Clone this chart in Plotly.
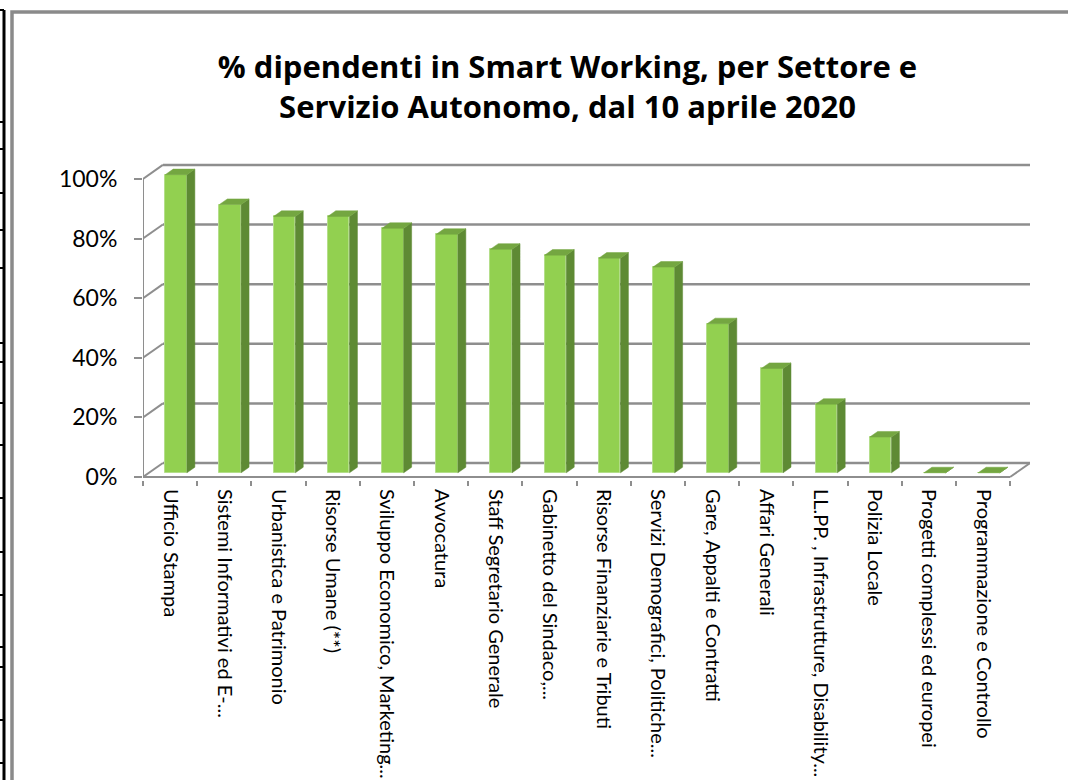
import plotly.graph_objects as go

# ---------------- data ----------------
categories = [
    "Ufficio Stampa",
    "Sistemi Informativi ed E-...",
    "Urbanistica e Patrimonio",
    "Risorse Umane (**)",
    "Sviluppo Economico, Marketing...",
    "Avvocatura",
    "Staff Segretario Generale",
    "Gabinetto del Sindaco,...",
    "Risorse Finanziarie e Tributi",
    "Servizi Demografici, Politiche...",
    "Gare, Appalti e Contratti",
    "Affari Generali",
    "LL.PP. , Infrastrutture, Disability...",
    "Polizia Locale",
    "Progetti complessi ed europei",
    "Programmazione e Controllo",
]
values = [100, 90, 86, 86, 82, 80, 75, 73, 72, 69, 50, 35, 23, 12, 0, 0]
y_ticks = [0, 20, 40, 60, 80, 100]
y_tick_labels = ["0%", "20%", "40%", "60%", "80%", "100%"]
title_text = "% dipendenti in Smart Working, per Settore e<br>Servizio Autonomo, dal 10 aprile 2020"

# ---------------- pseudo-3D geometry constants ----------------
W, H = 1068, 780
L, R, T, B = 143, 38, 161, 300
PW, PH = W - L - R, H - T - B
DEPTH_X, DEPTH_Y = 0.367, 4.69      # full box depth in axis units
BAR_D0, BAR_D1 = 0.30, 0.70          # bar front/back depth fraction
BAR_W = 0.40

FRONT = "#92D050"
FRONT_EDGE = "#B4DE8A"
SIDE = "#5E8A34"
TOP = "#74A641"
GRID = "#8E8E8E"

n = len(categories)
idx = list(range(n))
base = BAR_D0 * DEPTH_Y
front_x = [i + BAR_D0 * DEPTH_X for i in idx]
sx = (BAR_D1 - BAR_D0) * DEPTH_X
sy = (BAR_D1 - BAR_D0) * DEPTH_Y

side_x, side_y, top_x, top_y = [], [], [], []
for xc, v in zip(front_x, values):
    xl, xr = xc - BAR_W / 2, xc + BAR_W / 2
    yt = base + v
    side_x += [xr, xr + sx, xr + sx, xr, xr, None]
    side_y += [base, base + sy, yt + sy, yt, base, None]
    top_x += [xl, xl + sx, xr + sx, xr, xl, None]
    top_y += [yt, yt + sy, yt + sy, yt, yt, None]

fig = go.Figure()
fig.add_trace(go.Bar(
    x=front_x, y=values, base=base, width=BAR_W,
    marker=dict(color=FRONT, line=dict(color=FRONT_EDGE, width=1)),
    hoverinfo="skip", showlegend=False,
))
fig.add_trace(go.Scatter(
    x=side_x, y=side_y, mode="lines", fill="toself", fillcolor=SIDE,
    line=dict(color=SIDE, width=0.5), hoverinfo="skip", showlegend=False,
))
fig.add_trace(go.Scatter(
    x=top_x, y=top_y, mode="lines", fill="toself", fillcolor=TOP,
    line=dict(color=TOP, width=0.5), hoverinfo="skip", showlegend=False,
))

x_left = -0.5
x_right = n - 0.5
shapes = []
# back wall gridlines and left wall diagonals
for t in y_ticks:
    shapes.append(dict(type="line", xref="x", yref="y", layer="below",
                       x0=x_left + DEPTH_X, x1=x_right + DEPTH_X,
                       y0=t + DEPTH_Y, y1=t + DEPTH_Y,
                       line=dict(color=GRID, width=2.5)))
    shapes.append(dict(type="line", xref="x", yref="y", layer="below",
                       x0=x_left, x1=x_left + DEPTH_X,
                       y0=t, y1=t + DEPTH_Y,
                       line=dict(color=GRID, width=2)))
# front-left vertical edge
shapes.append(dict(type="line", xref="x", yref="y", layer="below",
                   x0=x_left, x1=x_left, y0=0, y1=y_ticks[-1],
                   line=dict(color=GRID, width=2)))
# floor front edge and right diagonal
shapes.append(dict(type="line", xref="x", yref="y", layer="below",
                   x0=x_left, x1=x_right, y0=0, y1=0,
                   line=dict(color=GRID, width=2)))
shapes.append(dict(type="line", xref="x", yref="y", layer="below",
                   x0=x_right, x1=x_right + DEPTH_X, y0=0, y1=DEPTH_Y,
                   line=dict(color=GRID, width=2)))


def px_x(p):
    return (p - L) / PW


def px_y(p):
    return (T + PH - p) / PH


# chart area border (gray)
shapes.append(dict(type="rect", xref="paper", yref="paper",
                   x0=px_x(12), x1=px_x(1085), y0=px_y(12), y1=px_y(800),
                   line=dict(color="#8A8A8A", width=3.5), fillcolor="rgba(0,0,0,0)"))
# spreadsheet edge at far left (black line with row marks)
shapes.append(dict(type="line", xref="paper", yref="paper",
                   x0=px_x(4), x1=px_x(4), y0=px_y(10), y1=px_y(790),
                   line=dict(color="black", width=3)))
row_marks = [10, 122, 149, 193, 230, 268, 343, 362, 403, 445, 498, 552, 595, 647, 667, 720, 763]
for r in row_marks:
    shapes.append(dict(type="line", xref="paper", yref="paper",
                       x0=px_x(0), x1=px_x(4), y0=px_y(r), y1=px_y(r),
                       line=dict(color="black", width=2)))

fig.update_layout(
    width=W, height=H,
    margin=dict(l=L, r=R, t=T, b=B, pad=0, autoexpand=False),
    paper_bgcolor="white", plot_bgcolor="white",
    showlegend=False,
    bargap=0,
    shapes=shapes,
    title=dict(text=title_text, x=567.5 / W, xanchor="center",
               y=1 - 78 / H, yanchor="middle", yref="container",
               font=dict(family="Open Sans", size=31, color="black", weight="bold")),
    font=dict(family="Lato", color="black"),
    xaxis=dict(
        range=[x_left, x_right + DEPTH_X],
        tickmode="array", tickvals=idx, ticktext=categories,
        tickangle=90, ticks="", showgrid=False, zeroline=False, showline=False,
        tickfont=dict(family="Lato", size=20, color="black"),
        ticklabelstandoff=8, automargin=False,
        minor=dict(tickmode="array", tickvals=[i - 0.5 for i in range(n + 1)],
                   ticks="outside", ticklen=5, tickwidth=2, tickcolor=GRID,
                   showgrid=False),
        fixedrange=True,
    ),
    yaxis=dict(
        range=[-1, 106],
        tickmode="array", tickvals=y_ticks, ticktext=y_tick_labels,
        ticks="outside", ticklen=8, tickwidth=2, tickcolor=GRID,
        showgrid=False, zeroline=False, showline=False,
        tickfont=dict(family="Lato", size=23, color="black"),
        ticklabelstandoff=12, automargin=False,
        fixedrange=True,
    ),
)

fig.write_html(
    "out.html",
    config={"displayModeBar": False},
    post_script="document.body.style.margin='0';document.body.style.overflow='hidden';",
)
